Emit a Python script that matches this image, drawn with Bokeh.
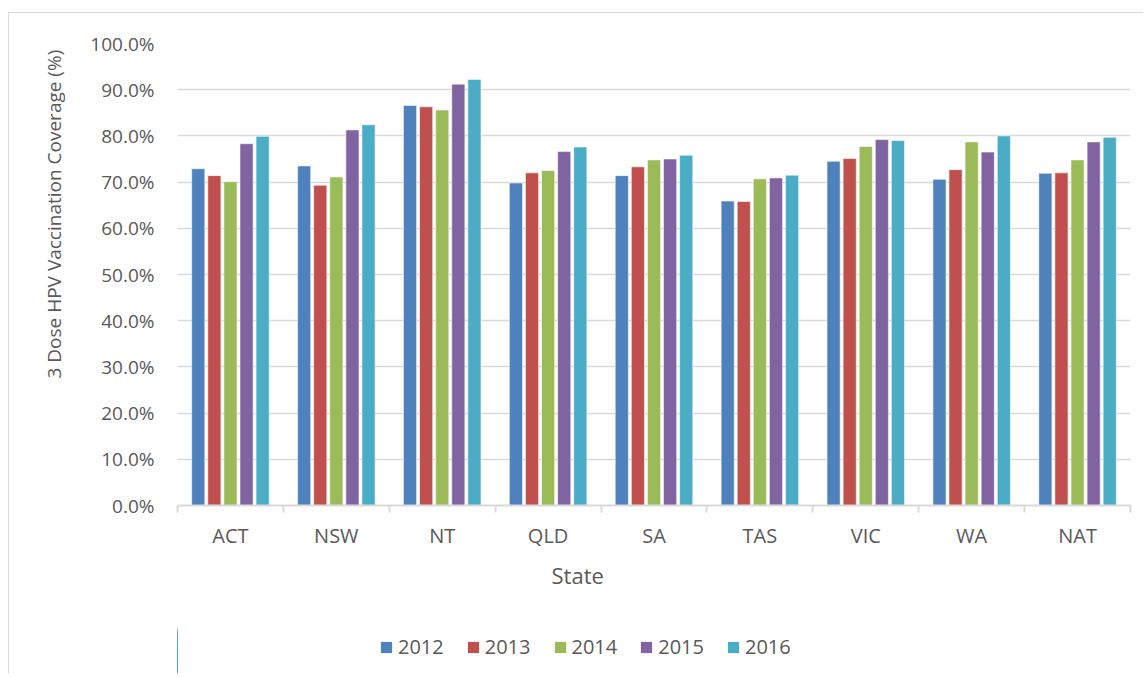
from bokeh.plotting import figure
from bokeh.layouts import column
from bokeh.models import (ColumnDataSource, Range1d, FixedTicker, NumeralTickFormatter,
                          Title, Legend, LegendItem)
from bokeh.transform import dodge
from bokeh.embed import file_html
from bokeh.resources import INLINE

states = ["ACT", "NSW", "NT", "QLD", "SA", "TAS", "VIC", "WA", "NAT"]
years = ["2012", "2013", "2014", "2015", "2016"]
v2012 = [72.9, 73.5, 86.6, 69.8, 71.4, 65.9, 74.5, 70.6, 71.9]
v2013 = [71.4, 69.3, 86.3, 72.0, 73.3, 65.8, 75.1, 72.7, 72.0]
v2014 = [70.1, 71.1, 85.6, 72.5, 74.8, 70.7, 77.7, 78.7, 74.8]
v2015 = [78.3, 81.3, 91.2, 76.6, 75.0, 70.9, 79.2, 76.5, 78.7]
v2016 = [79.9, 82.4, 92.2, 77.6, 75.8, 71.5, 79.0, 80.0, 79.7]
series = [v2012, v2013, v2014, v2015, v2016]
colors = ["#4F81BD", "#C0504D", "#9BBB59", "#8064A2", "#4BACC6"]
y_ticks = [i / 10 for i in range(11)]

FONT = "Open Sans"
TXT = "#595959"
GRID = "#D9D9D9"

data = {"pos": [i + 0.5 for i in range(len(states))]}
for yr, vals in zip(years, series):
    data[yr] = [v / 100 for v in vals]
source = ColumnDataSource(data)

p = figure(width=1134, height=610, output_backend="svg", toolbar_location=None,
           x_range=Range1d(0, len(states)), y_range=Range1d(0, 1),
           min_border_left=168, min_border_right=13, min_border_top=30, min_border_bottom=118,
           outline_line_color=None)

offsets = [-0.304, -0.152, 0.0, 0.152, 0.304]
renderers = []
for yr, col, off in zip(years, colors, offsets):
    r = p.vbar(x=dodge("pos", off, range=p.x_range), top=yr, width=0.124, bottom=0,
               source=source, fill_color=col, line_color="white", line_alpha=0.55,
               line_width=1)
    renderers.append(r)

# axes
xa = p.xaxis[0]
xa.ticker = FixedTicker(ticks=data["pos"], minor_ticks=list(range(len(states) + 1)))
xa.major_label_overrides = {pos: s for pos, s in zip(data["pos"], states)}
xa.major_tick_line_color = None
xa.major_tick_out = 0
xa.minor_tick_out = 7
xa.minor_tick_in = 0
xa.minor_tick_line_color = GRID
xa.minor_tick_line_width = 2
xa.axis_line_color = GRID
xa.axis_line_width = 2
xa.major_label_text_font = FONT
xa.major_label_text_font_size = "20px"
xa.major_label_text_color = TXT
xa.major_label_standoff = 9

ya = p.yaxis[0]
ya.ticker = FixedTicker(ticks=y_ticks)
ya.formatter = NumeralTickFormatter(format="0.0%")
ya.axis_line_color = None
ya.major_tick_line_color = None
ya.minor_tick_line_color = None
ya.major_tick_out = 0
ya.major_label_standoff = 23
ya.major_label_text_font = FONT
ya.major_label_text_font_size = "19px"
ya.major_label_text_color = TXT

p.xgrid.grid_line_color = None
p.ygrid.ticker = FixedTicker(ticks=y_ticks)
p.ygrid.grid_line_color = GRID
p.ygrid.grid_line_width = 1.5

# axis titles (side-panel titles so they can sit off-centre like the original)
p.add_layout(Title(text="3 Dose HPV Vaccination Coverage (%)", align="left", offset=127,
                   vertical_align="middle",
                   text_font=FONT, text_font_size="19px", text_font_style="normal",
                   text_color=TXT, standoff=40), "left")
p.add_layout(Title(text="State", align="left", offset=374,
                   text_font=FONT, text_font_size="22px", text_font_style="normal",
                   text_color=TXT, standoff=12), "below")

# legend in its own strip below the chart (zero-width, out-of-view swatch renderers)
lg = figure(width=1134, height=50, output_backend="svg", toolbar_location=None,
            x_range=Range1d(100, 101), y_range=Range1d(0, 1),
            min_border_left=168, min_border_right=13, min_border_top=0, min_border_bottom=0,
            outline_line_color=None, border_fill_color=None, background_fill_color=None,
            x_axis_location=None, y_axis_location=None)
lg.xgrid.grid_line_color = None
lg.ygrid.grid_line_color = None
lg_renderers = []
for yr, col, off in zip(years, colors, offsets):
    lg_renderers.append(lg.vbar(x=dodge("pos", off, range=lg.x_range), top=yr, width=0,
                                source=source, fill_color=col, line_color=None))

legend = Legend(items=[LegendItem(label=yr, renderers=[r]) for yr, r in zip(years, lg_renderers)],
                orientation="horizontal", location=(202, 13),
                padding=0, margin=0, spacing=22, label_standoff=5,
                glyph_width=14, glyph_height=14, label_height=20,
                label_text_font=FONT, label_text_font_size="20px", label_text_color=TXT,
                border_line_color=None, background_fill_alpha=0)
lg.add_layout(legend, "center")

layout = column(p, lg, spacing=0,
                styles={"margin-top": "12px", "margin-left": "8px",
                        "border-top": "1.5px solid #d9d9d9",
                        "border-left": "1.5px solid #d9d9d9"})
open("out.html", "w").write(file_html(layout, INLINE))
